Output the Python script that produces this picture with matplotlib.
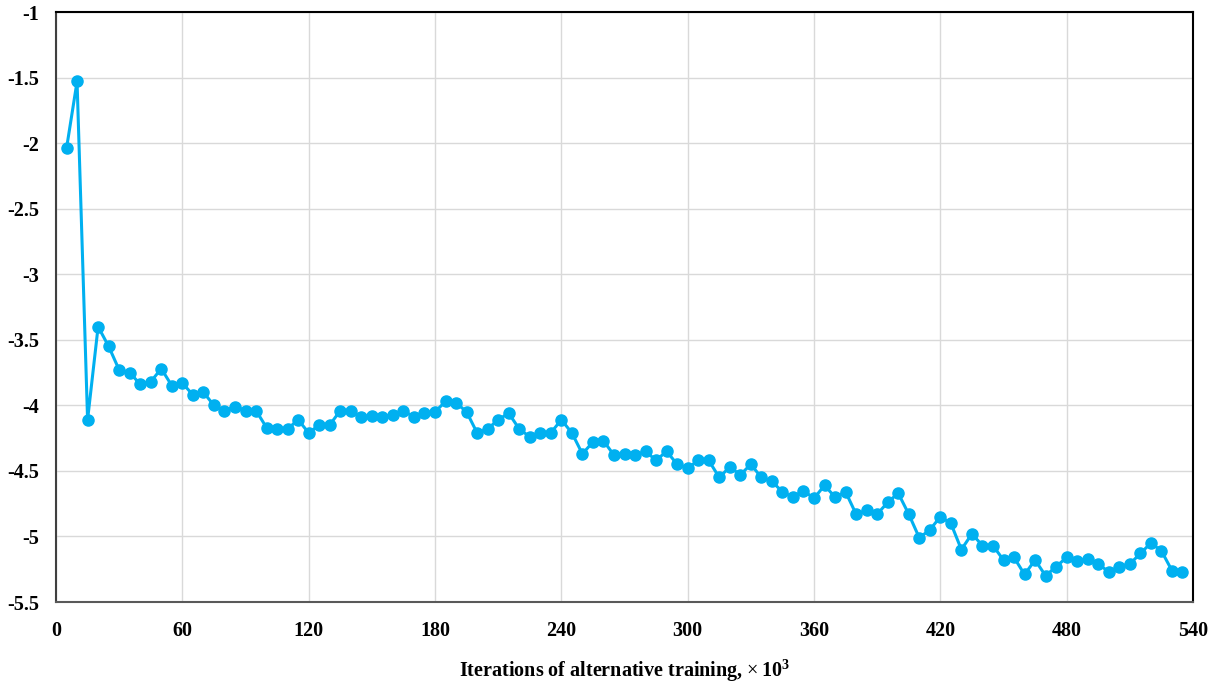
import matplotlib
matplotlib.use("Agg")
import matplotlib.pyplot as plt
import numpy as np

iterations = list(range(5, 540, 5))
values = [
    -2.04, -1.53, -4.11, -3.40, -3.55, -3.73, -3.75, -3.84, -3.82, -3.72,
    -3.85, -3.83, -3.92, -3.90, -4.00, -4.04, -4.01, -4.04, -4.04, -4.17,
    -4.18, -4.18, -4.11, -4.21, -4.15, -4.15, -4.04, -4.04, -4.09, -4.08,
    -4.09, -4.07, -4.04, -4.09, -4.06, -4.05, -3.97, -3.98, -4.05, -4.21,
    -4.18, -4.11, -4.06, -4.18, -4.24, -4.21, -4.21, -4.11, -4.21, -4.37,
    -4.28, -4.27, -4.38, -4.37, -4.38, -4.35, -4.42, -4.35, -4.45, -4.48,
    -4.42, -4.42, -4.55, -4.47, -4.53, -4.45, -4.55, -4.58, -4.66, -4.70,
    -4.65, -4.71, -4.61, -4.70, -4.66, -4.83, -4.80, -4.83, -4.74, -4.67,
    -4.83, -5.01, -4.95, -4.85, -4.90, -5.10, -4.98, -5.07, -5.07, -5.18,
    -5.16, -5.29, -5.18, -5.30, -5.23, -5.16, -5.19, -5.17, -5.21, -5.27,
    -5.23, -5.21, -5.13, -5.05, -5.11, -5.26, -5.27,
]
x_ticks = [0, 60, 120, 180, 240, 300, 360, 420, 480, 540]
y_ticks = [-5.5, -5, -4.5, -4, -3.5, -3, -2.5, -2, -1.5, -1]
y_tick_labels = ["-5.5", "-5", "-4.5", "-4", "-3.5", "-3", "-2.5", "-2", "-1.5", "-1"]
x_label = r"Iterations of alternative training, $\times\,\mathbf{10^3}$"

plt.rcParams["font.family"] = ["Liberation Serif", "DejaVu Serif"]
plt.rcParams["mathtext.fontset"] = "custom"
plt.rcParams["mathtext.rm"] = "Liberation Serif"
plt.rcParams["mathtext.bf"] = "Liberation Serif:bold"

fig = plt.figure(figsize=(12.15, 6.88), dpi=100)
ax = fig.add_axes([56/1215, 1 - 602/688, (1193 - 56)/1215, (602 - 12)/688])

ax.plot(iterations, values, color="#00B0F0", linewidth=2.2, marker="o",
        markersize=8, markerfacecolor="#00B0F0", markeredgecolor="#00B0F0", zorder=3)

ax.set_xlim(0, 540)
ax.set_ylim(-5.5, -1)
ax.set_xticks(x_ticks)
ax.set_xticklabels([str(t) for t in x_ticks], fontsize=14.5, fontweight="bold")
ax.set_yticks(y_ticks)
ax.set_yticklabels(y_tick_labels, fontsize=14.5, fontweight="bold")
ax.tick_params(axis="x", length=0, pad=14)
ax.tick_params(axis="y", length=0, pad=12)
ax.grid(True, color="#D9D9D9", linewidth=1)
ax.set_axisbelow(True)
for s in ax.spines.values():
    s.set_color("black")
    s.set_linewidth(1.5)
ax.spines["bottom"].set_color("#595959")
ax.spines["left"].set_color("#404040")

ax.set_xlabel(x_label, fontsize=14.5, fontweight="bold", labelpad=12)

fig.savefig("out.png", dpi=100)
